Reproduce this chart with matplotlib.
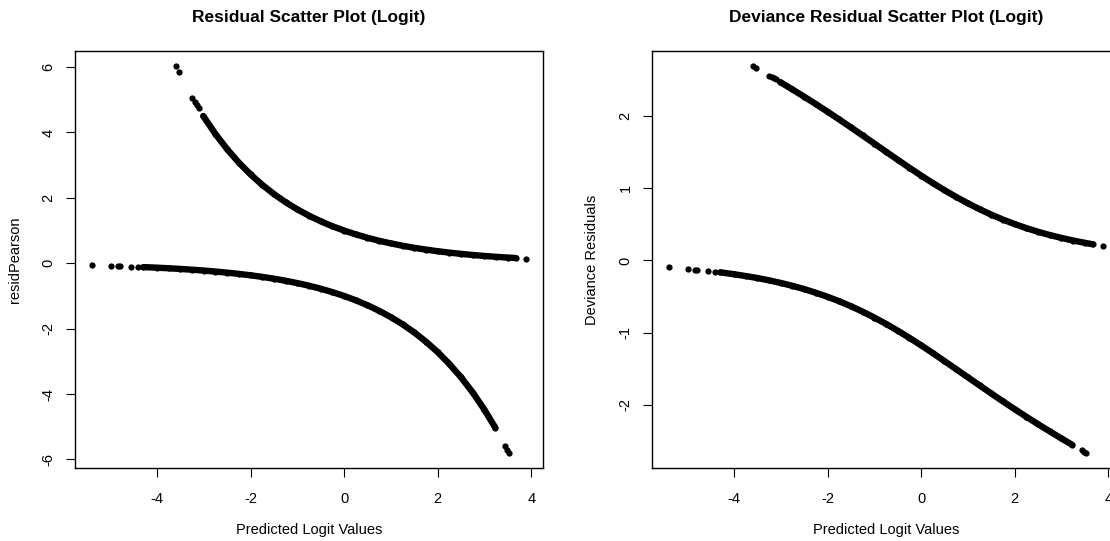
import numpy as np
import matplotlib
matplotlib.use("Agg")
import matplotlib.pyplot as plt

plt.rcParams['font.family'] = ['Liberation Sans', 'DejaVu Sans']
plt.rcParams['axes.unicode_minus'] = False

# observations with y = 1 (upper branch), predicted logit and residuals
upper_sparse_x = [-3.59, -3.535, -3.24, -3.19, -3.15, -3.11, 3.88]
upper_sparse_pearson = [6.02, 5.86, 5.05, 4.93, 4.83, 4.74, 0.144]
upper_sparse_deviance = [2.690, 2.670, 2.561, 2.542, 2.527, 2.511, 0.202]

upper_dense_x = [-3.01, -2.75, -2.5, -2.25, -2.0, -1.75, -1.5, -1.25, -1.0, -0.75,
                 -0.5, -0.25, 0.0, 0.25, 0.5, 0.75, 1.0, 1.25, 1.5, 1.75,
                 2.0, 2.25, 2.5, 2.75, 3.0, 3.25, 3.5, 3.67]
upper_dense_pearson = [4.504, 3.955, 3.490, 3.080, 2.718, 2.399, 2.117, 1.868, 1.649, 1.455,
                       1.284, 1.133, 1.000, 0.883, 0.779, 0.687, 0.607, 0.535, 0.472, 0.417,
                       0.368, 0.325, 0.287, 0.253, 0.223, 0.197, 0.174, 0.160]
upper_dense_deviance = [2.473, 2.371, 2.271, 2.168, 2.063, 1.955, 1.845, 1.733, 1.621, 1.508,
                        1.396, 1.285, 1.177, 1.073, 0.974, 0.880, 0.792, 0.710, 0.635, 0.566,
                        0.504, 0.448, 0.397, 0.352, 0.312, 0.276, 0.244, 0.224]

# observations with y = 0 (lower branch)
lower_sparse_x = [-5.38, -4.99, -4.83, -4.78, -4.55, -4.40, 3.44, 3.49, 3.52]
lower_sparse_pearson = [-0.068, -0.083, -0.089, -0.092, -0.103, -0.111, -5.58, -5.72, -5.79]
lower_sparse_deviance = [-0.096, -0.116, -0.126, -0.129, -0.145, -0.156, -2.635, -2.653, -2.664]

lower_dense_x = [-4.29, -4.0, -3.75, -3.5, -3.25, -3.0, -2.75, -2.5, -2.25, -2.0,
                 -1.75, -1.5, -1.25, -1.0, -0.75, -0.5, -0.25, 0.0, 0.25, 0.5,
                 0.75, 1.0, 1.25, 1.5, 1.75, 2.0, 2.25, 2.5, 2.75, 3.0, 3.23]
lower_dense_pearson = [-0.117, -0.135, -0.153, -0.174, -0.197, -0.223, -0.253, -0.287, -0.325, -0.368,
                       -0.417, -0.472, -0.535, -0.607, -0.687, -0.779, -0.883, -1.000, -1.133, -1.284,
                       -1.455, -1.649, -1.868, -2.117, -2.399, -2.718, -3.080, -3.490, -3.955, -4.482, -5.028]
lower_dense_deviance = [-0.165, -0.191, -0.216, -0.244, -0.276, -0.312, -0.352, -0.397, -0.448, -0.504,
                        -0.566, -0.635, -0.710, -0.792, -0.880, -0.974, -1.073, -1.177, -1.285, -1.396,
                        -1.508, -1.621, -1.733, -1.845, -1.955, -2.063, -2.168, -2.271, -2.371, -2.469, -2.557]

W, H = 1110, 541
fig = plt.figure(figsize=(W / 100, H / 100), dpi=100)

ax_w, ax_h, ax_b = 468, 417, 73
ax1 = fig.add_axes([75 / W, ax_b / H, ax_w / W, ax_h / H])
ax2 = fig.add_axes([652 / W, ax_b / H, ax_w / W, ax_h / H])


def draw_branch(ax, dense_x, dense_y, sparse_x, sparse_y):
    ax.plot(dense_x, dense_y, '-', color='black', lw=4.6, solid_capstyle='round',
            solid_joinstyle='round')
    ax.plot(dense_x, dense_y, 'o', color='black', ms=4.5, mew=0)
    ax.plot(sparse_x, sparse_y, 'o', color='black', ms=4.5, mew=0)


def style_axes(ax, title, ylabel, yticks):
    ax.margins(x=0.04, y=0.04)
    ax.set_xticks([-4, -2, 0, 2, 4])
    ax.set_yticks(yticks)
    for s in ax.spines.values():
        s.set_linewidth(1.0)
    ax.tick_params(axis='both', direction='out', length=6.5, width=0.8,
                   labelsize=10.5, colors='black')
    ax.tick_params(axis='x', pad=10.5)
    ax.tick_params(axis='y', pad=7.5, labelrotation=90)
    for lab in ax.get_yticklabels():
        lab.set_va('center')
    ax.set_xlabel('Predicted Logit Values', fontsize=10.5)
    ax.xaxis.label.set_va('center')
    ax.xaxis.set_label_coords(0.5, -62 / ax_h)
    ax.set_ylabel(ylabel, fontsize=10.5)
    ax.yaxis.label.set_va('center')
    ax.yaxis.set_label_coords(-60 / ax_w, 0.5)
    ax.text(0.5, 1 + 34 / ax_h, title, transform=ax.transAxes, ha='center',
            va='center', fontsize=12.5, fontweight='bold')


draw_branch(ax1, upper_dense_x, upper_dense_pearson, upper_sparse_x, upper_sparse_pearson)
draw_branch(ax1, lower_dense_x, lower_dense_pearson, lower_sparse_x, lower_sparse_pearson)
style_axes(ax1, 'Residual Scatter Plot (Logit)', 'residPearson', [-6, -4, -2, 0, 2, 4, 6])

draw_branch(ax2, upper_dense_x, upper_dense_deviance, upper_sparse_x, upper_sparse_deviance)
draw_branch(ax2, lower_dense_x, lower_dense_deviance, lower_sparse_x, lower_sparse_deviance)
style_axes(ax2, 'Deviance Residual Scatter Plot (Logit)', 'Deviance Residuals', [-2, -1, 0, 1, 2])

fig.savefig('out.png', dpi=100)
